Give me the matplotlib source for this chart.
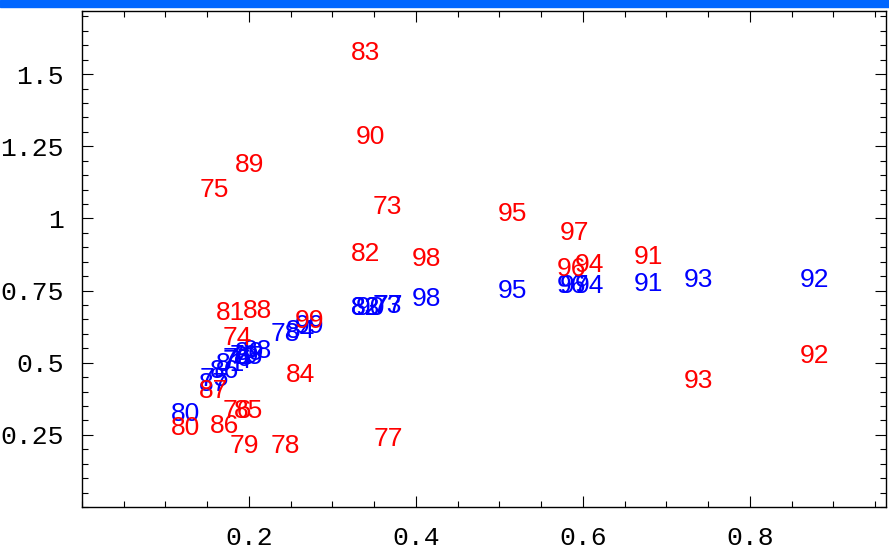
import numpy as np
import matplotlib.pyplot as plt
from matplotlib.patches import Rectangle
from matplotlib.ticker import MultipleLocator

# years used as point labels
years = [73, 74, 75, 76, 77, 78, 79, 80, 81, 82, 83, 84, 85, 86,
         87, 88, 89, 90, 91, 92, 93, 94, 95, 96, 97, 98, 99]

# shared x value per year
x_vals = [0.366, 0.186, 0.159, 0.186, 0.367, 0.243, 0.195, 0.124, 0.178,
          0.340, 0.339, 0.262, 0.200, 0.171, 0.157, 0.210, 0.201, 0.346,
          0.678, 0.877, 0.738, 0.608, 0.515, 0.586, 0.590, 0.413, 0.272]

red_y = [1.038, 0.587, 1.097, 0.333, 0.236, 0.212, 0.212, 0.274, 0.674,
         0.878, 1.573, 0.458, 0.333, 0.281, 0.403, 0.681, 1.184, 1.281,
         0.868, 0.524, 0.438, 0.837, 1.017, 0.826, 0.951, 0.858, 0.646]

blue_y = [0.698, 0.507, 0.444, 0.514, 0.698, 0.601, 0.524, 0.323, 0.497,
          0.691, 0.691, 0.611, 0.521, 0.472, 0.427, 0.542, 0.535, 0.691,
          0.774, 0.785, 0.785, 0.767, 0.750, 0.767, 0.767, 0.722, 0.628]

xticks = [0.2, 0.4, 0.6, 0.8]
yticks = [0.25, 0.5, 0.75, 1.0, 1.25, 1.5]
ytick_labels = ["0.25", "0.5", "0.75", "1", "1.25", "1.5"]


def draw_labels(ax, xs, ys, color):
    for yr, x, y in zip(years, xs, ys):
        ax.text(x, y, str(yr), color=color, ha="center", va="center",
                fontsize=19, family="Liberation Sans")


def main():
    fig = plt.figure(figsize=(8.89, 5.53), dpi=100)
    ax = fig.add_axes([82 / 889, 1 - 507 / 553, 804 / 889, 496 / 553])

    draw_labels(ax, x_vals, blue_y, "#0000ff")
    draw_labels(ax, x_vals, red_y, "#ff0000")

    ax.set_xlim(0, 0.963)
    ax.set_ylim(0, 1.719)

    ax.set_xticks(xticks)
    ax.set_xticklabels(["%g" % t for t in xticks])
    ax.set_yticks(yticks)
    ax.set_yticklabels(ytick_labels)
    ax.xaxis.set_minor_locator(MultipleLocator(0.05))
    ax.yaxis.set_minor_locator(MultipleLocator(0.05))

    ax.tick_params(which="both", direction="in", top=True, right=True,
                   width=0.8, color="black")
    ax.tick_params(which="major", length=8)
    ax.tick_params(which="minor", length=4.5)
    ax.tick_params(axis="x", which="major", pad=14)
    ax.tick_params(axis="y", which="major", pad=13)
    for lab in ax.get_xticklabels() + ax.get_yticklabels():
        lab.set_family("Liberation Mono")
        lab.set_fontsize(19)
    for sp in ax.spines.values():
        sp.set_linewidth(1.0)

    # window title bar strip at the very top
    fig.patches.append(Rectangle((0, 1 - 7 / 553), 1, 7 / 553,
                                 transform=fig.transFigure,
                                 color="#0066ff", zorder=0))

    fig.savefig("out.png", dpi=100)


if __name__ == "__main__":
    main()
